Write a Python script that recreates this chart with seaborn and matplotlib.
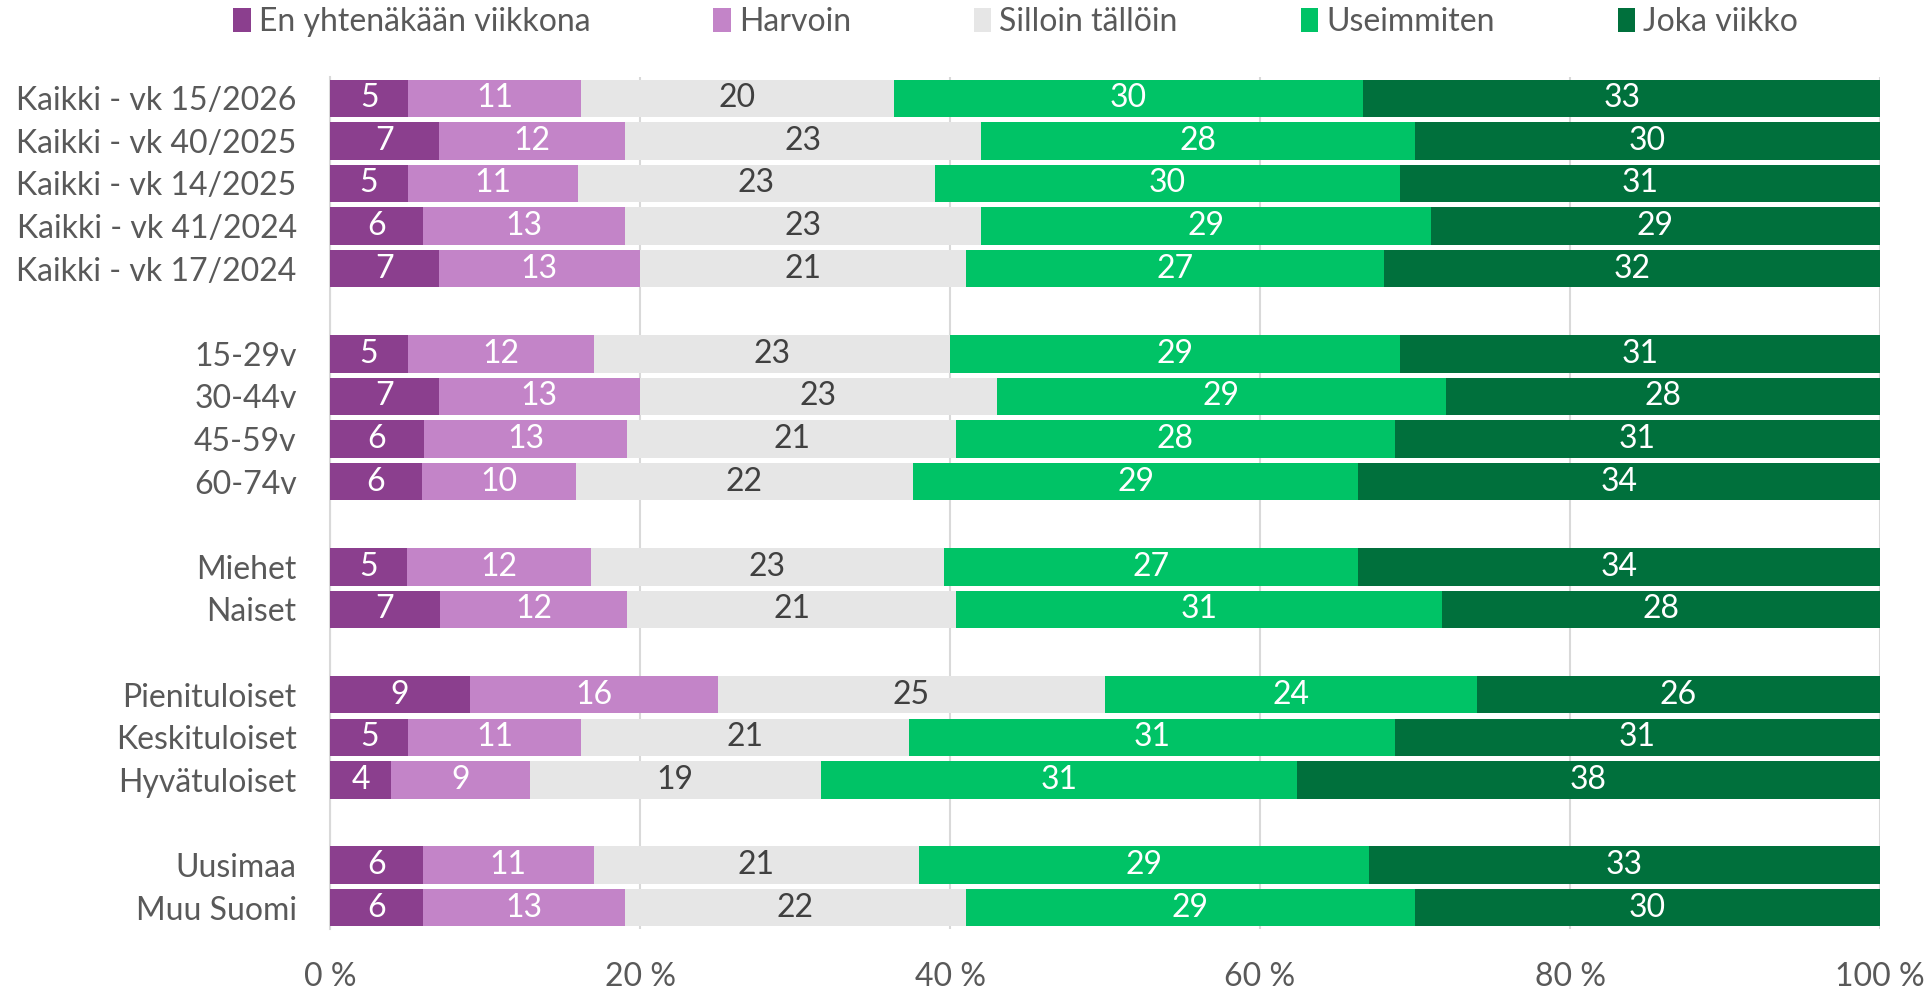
import numpy as np
import pandas as pd
import matplotlib
matplotlib.use("Agg")
import matplotlib.pyplot as plt
import seaborn as sns
from matplotlib.patches import Patch

# Row labels (top to bottom) and response shares (%)
groups = [
    ["Kaikki - vk 15/2026", "Kaikki - vk 40/2025", "Kaikki - vk 14/2025",
     "Kaikki - vk 41/2024", "Kaikki - vk 17/2024"],
    ["15-29v", "30-44v", "45-59v", "60-74v"],
    ["Miehet", "Naiset"],
    ["Pienituloiset", "Keskituloiset", "Hyvätuloiset"],
    ["Uusimaa", "Muu Suomi"],
]
series_names = ["En yhtenäkään viikkona", "Harvoin", "Silloin tällöin",
                "Useimmiten", "Joka viikko"]
never = [5, 7, 5, 6, 7, 5, 7, 6, 6, 5, 7, 9, 5, 4, 6, 6]
rarely = [11, 12, 11, 13, 13, 12, 13, 13, 10, 12, 12, 16, 11, 9, 11, 13]
sometimes = [20, 23, 23, 23, 21, 23, 23, 21, 22, 23, 21, 25, 21, 19, 21, 22]
mostly = [30, 28, 30, 29, 27, 29, 29, 28, 29, 27, 31, 24, 31, 31, 29, 29]
weekly = [33, 30, 31, 29, 32, 31, 28, 31, 34, 34, 28, 26, 31, 38, 33, 30]
xticks = [0, 20, 40, 60, 80, 100]

colors = ["#8B3F8E", "#C384C8", "#E6E6E6", "#00C366", "#00703C"]
text_colors = ["white", "white", "#404040", "white", "white"]

# Row positions with an empty slot between groups
labels, positions = [], []
pos = 0
for g in groups:
    for lab in g:
        labels.append(lab)
        positions.append(pos)
        pos += 1
    pos += 1

vals = np.array([never, rarely, sometimes, mostly, weekly], dtype=float)
shares = vals / vals.sum(axis=0) * 100
cum = np.cumsum(shares, axis=0)

sns.set_theme(style="white")
plt.rcParams["font.family"] = ["Lato", "DejaVu Sans"]

fig = plt.figure(figsize=(19.31, 9.93), dpi=100)
ax = fig.add_axes([0.1709, 0.0645, 0.8027, 0.858])

# Stacked bars: draw cumulative totals from the outermost layer inward
for i in range(len(series_names) - 1, -1, -1):
    df = pd.DataFrame({"end": cum[i], "pos": positions})
    sns.barplot(data=df, x="end", y="pos", orient="h", native_scale=True,
                color=colors[i], saturation=1, width=0.88, ax=ax,
                linewidth=0, zorder=3)

for i in range(len(series_names)):
    for j, p in enumerate(positions):
        center = cum[i, j] - shares[i, j] / 2
        ax.text(center, p, f"{int(vals[i, j])}", ha="center", va="center",
                color=text_colors[i], fontsize=23, zorder=4)

ax.set_xlim(0, 100)
ax.set_ylim(19.5, -0.5)
ax.set_xticks(xticks)
ax.set_xticklabels([f"{t} %" for t in xticks])
ax.set_yticks(positions)
ax.set_yticklabels(labels)
ax.set_xlabel("")
ax.set_ylabel("")
ax.tick_params(axis="x", length=0, pad=24, labelsize=23, labelcolor="#595959")
ax.tick_params(axis="y", length=0, pad=24, labelsize=23, labelcolor="#595959")
ax.grid(axis="x", color="#D9D9D9", linewidth=1.5, zorder=0)
ax.grid(axis="y", visible=False)
ax.set_axisbelow(True)
for s in ["top", "right", "bottom"]:
    ax.spines[s].set_visible(False)
ax.spines["left"].set_color("#D9D9D9")
ax.spines["left"].set_linewidth(1.5)

handles = [Patch(facecolor=c, edgecolor="none") for c in colors]
fig.legend(handles, series_names, loc="center", bbox_to_anchor=(0.526, 0.978),
           ncol=5, frameon=False, fontsize=23, labelcolor="#595959",
           handlelength=0.55, handleheight=0.8, handletextpad=0.25,
           columnspacing=3.85)

fig.savefig("out.png", dpi=100)
